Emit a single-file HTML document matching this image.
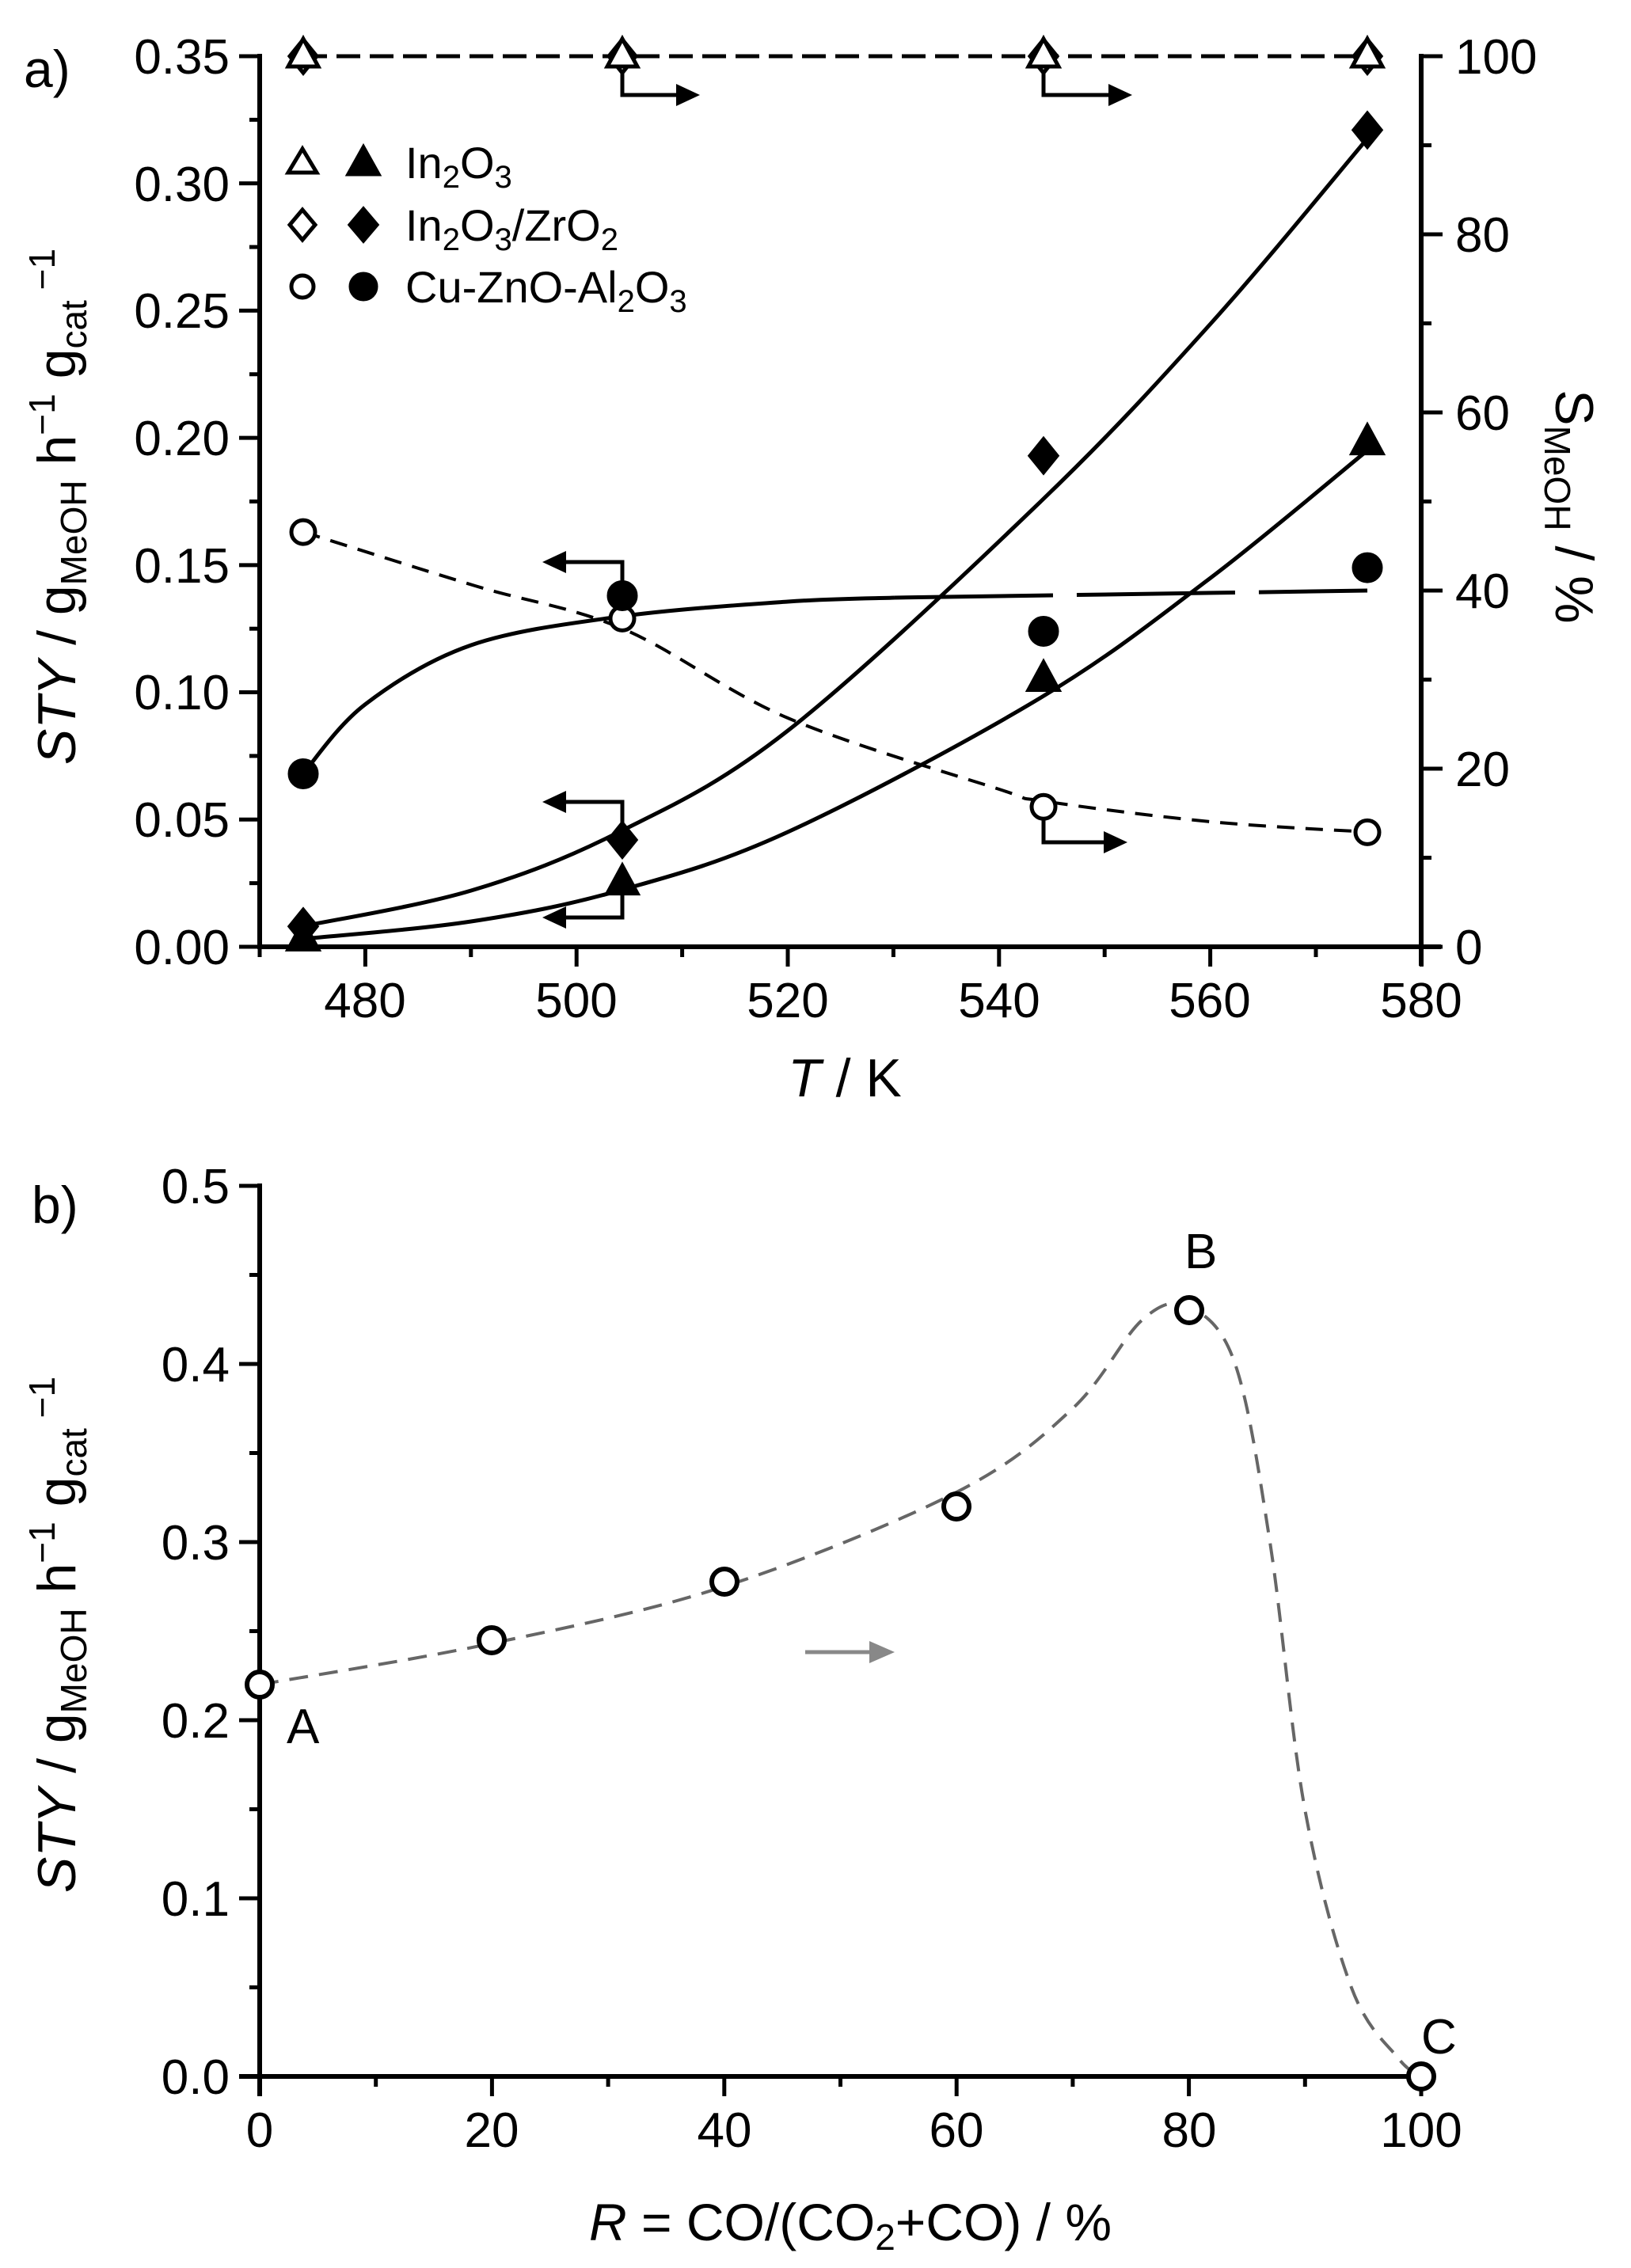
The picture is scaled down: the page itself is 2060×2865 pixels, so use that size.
<!DOCTYPE html>
<html><head><meta charset="utf-8"><style>
html,body{margin:0;padding:0;background:#fff;}
svg{display:block;font-family:"Liberation Sans",Arial,sans-serif;}
</style></head><body>
<svg id="s" width="2060" height="2865" viewBox="0 0 2060 2865" xmlns="http://www.w3.org/2000/svg">
<rect width="2060" height="2865" fill="#fff"/>
<g id="ticks" stroke="#000" stroke-width="5" fill="none"></g>
<g stroke="#000" stroke-width="6" fill="none">
<line x1="328" y1="68" x2="328" y2="1199"/>
<line x1="1795" y1="68" x2="1795" y2="1220"/>
<line x1="325" y1="1196" x2="1820" y2="1196"/>
<line x1="328" y1="1495" x2="328" y2="2648"/>
<line x1="302" y1="2623" x2="1800" y2="2623"/>
</g>
<g font-size="62" fill="#000" text-anchor="end">
<text x="290" y="93">0.35</text><text x="290" y="254">0.30</text><text x="290" y="414">0.25</text>
<text x="290" y="575">0.20</text><text x="290" y="736">0.15</text><text x="290" y="896">0.10</text>
<text x="290" y="1057">0.05</text><text x="290" y="1218">0.00</text>
</g>
<g font-size="62" fill="#000" text-anchor="start">
<text x="1838" y="93">100</text><text x="1838" y="318">80</text><text x="1838" y="543">60</text>
<text x="1838" y="768">40</text><text x="1838" y="993">20</text><text x="1838" y="1218">0</text>
</g>
<g font-size="62" fill="#000" text-anchor="middle">
<text x="461" y="1285">480</text><text x="728" y="1285">500</text><text x="995" y="1285">520</text>
<text x="1262" y="1285">540</text><text x="1528" y="1285">560</text><text x="1795" y="1285">580</text>
</g>
<text x="1067" y="1385" font-size="68" text-anchor="middle"><tspan font-style="italic">T</tspan> / K</text>
<text x="30" y="110" font-size="66">a)</text>
<text transform="translate(95,640) rotate(-90)" font-size="68" text-anchor="middle"><tspan font-style="italic">STY</tspan> / g<tspan font-size="46" dy="14">MeOH</tspan><tspan dy="-14"> h</tspan><tspan font-size="46" dy="-26">−1</tspan><tspan dy="26"> g</tspan><tspan font-size="46" dy="14">cat</tspan><tspan font-size="46" dy="-40"> −1</tspan></text>
<text transform="translate(1965,640) rotate(90)" font-size="68" text-anchor="middle">S<tspan font-size="46" dy="14">MeOH</tspan><tspan dy="-14"> / %</tspan></text>

<g stroke="#000" stroke-width="5">
<polygon points="382,188 364,218 400,218" fill="#fff"/>
<polygon points="459,186 440,220 478,220" fill="#000"/>
<polygon points="382,265 366,284 382,303 398,284" fill="#fff"/>
<polygon points="459,264 442,284 459,304 476,284" fill="#000"/>
<circle cx="382" cy="362" r="14" fill="#fff"/>
<circle cx="459" cy="362" r="16" fill="#000"/>
</g>
<g font-size="56" fill="#000">
<text x="512" y="225">In<tspan font-size="40" dy="12">2</tspan><tspan dy="-12">O</tspan><tspan font-size="40" dy="12">3</tspan></text>
<text x="512" y="304">In<tspan font-size="40" dy="12">2</tspan><tspan dy="-12">O</tspan><tspan font-size="40" dy="12">3</tspan><tspan dy="-12">/ZrO</tspan><tspan font-size="40" dy="12">2</tspan></text>
<text x="512" y="382">Cu-ZnO-Al<tspan font-size="40" dy="12">2</tspan><tspan dy="-12">O</tspan><tspan font-size="40" dy="12">3</tspan></text>
</g>

<g id="curves" fill="none" stroke="#000" stroke-width="5"></g>
<line x1="383" y1="71" x2="1727" y2="71" stroke="#000" stroke-width="5" stroke-dasharray="30,12"/>

<g stroke="#000" stroke-width="5" fill="none">
<polyline points="786,742 786,710 712,710"/>
<polyline points="786,1040 786,1013 712,1013"/>
<polyline points="786,1117 786,1159 712,1159"/>
<polyline points="786,71 786,120 858,120"/>
<polyline points="1318,71 1318,120 1404,120"/>
<polyline points="1318,1019 1318,1064 1398,1064"/>
</g>
<g fill="#000">
<polygon points="685,710 715,696 715,724"/>
<polygon points="685,1013 715,999 715,1027"/>
<polygon points="685,1159 715,1145 715,1173"/>
<polygon points="884,120 854,106 854,134"/>
<polygon points="1430,120 1400,106 1400,134"/>
<polygon points="1424,1064 1394,1050 1394,1078"/>
</g>

<g id="marks" stroke="#000" stroke-width="5"></g>

<g font-size="62" fill="#000" text-anchor="end">
<text x="290" y="1520">0.5</text><text x="290" y="1745">0.4</text><text x="290" y="1970">0.3</text>
<text x="290" y="2195">0.2</text><text x="290" y="2420">0.1</text><text x="290" y="2645">0.0</text>
</g>
<g font-size="62" fill="#000" text-anchor="middle">
<text x="328" y="2712">0</text><text x="621" y="2712">20</text><text x="915" y="2712">40</text>
<text x="1208" y="2712">60</text><text x="1502" y="2712">80</text><text x="1795" y="2712">100</text>
</g>
<text x="40" y="1545" font-size="66">b)</text>
<text transform="translate(95,2065) rotate(-90)" font-size="68" text-anchor="middle"><tspan font-style="italic">STY</tspan> / g<tspan font-size="46" dy="14">MeOH</tspan><tspan dy="-14"> h</tspan><tspan font-size="46" dy="-26">−1</tspan><tspan dy="26"> g</tspan><tspan font-size="46" dy="14">cat</tspan><tspan font-size="46" dy="-40"> −1</tspan></text>
<text x="1074" y="2830" font-size="66" text-anchor="middle"><tspan font-style="italic">R</tspan> = CO/(CO<tspan font-size="46" dy="12">2</tspan><tspan dy="-12">+CO) / %</tspan></text>
<g font-size="62" fill="#000">
<text x="362" y="2202">A</text><text x="1496" y="1602">B</text><text x="1795" y="2594">C</text>
</g>
<line x1="1017" y1="2087" x2="1100" y2="2087" stroke="#888" stroke-width="5"/>
<polygon points="1130,2087 1098,2073 1098,2101" fill="#888"/>
<g id="bmarks" stroke="#000" stroke-width="6" fill="#fff"></g>
</svg>
<script>
var NS="http://www.w3.org/2000/svg";
function el(p,t,a){var e=document.createElementNS(NS,t);for(var k in a)e.setAttribute(k,a[k]);document.getElementById(p).appendChild(e);return e;}
function cr(pts){var d="M"+pts[0][0]+","+pts[0][1];for(var i=0;i<pts.length-1;i++){var p0=pts[i-1]||pts[i],p1=pts[i],p2=pts[i+1],p3=pts[i+2]||p2;
d+=" C"+(p1[0]+(p2[0]-p0[0])/6)+","+(p1[1]+(p2[1]-p0[1])/6)+" "+(p2[0]-(p3[0]-p1[0])/6)+","+(p2[1]-(p3[1]-p1[1])/6)+" "+p2[0]+","+p2[1];}return d;}
var i;
for(i=0;i<=14;i++){var y=1196-i*80.36;el("ticks","line",{x1:i%2?315:302,y1:y,x2:328,y2:y});}
for(i=0;i<=10;i++){var y=1196-i*112.5;el("ticks","line",{x1:1795,y1:y,x2:i%2?1808:1822,y2:y});}
for(i=0;i<=11;i++){var x=328+i*133.4;el("ticks","line",{x1:x,y1:1196,x2:x,y2:i%2?1221:1209});}
for(i=0;i<=10;i++){var y=2623-i*112.5;el("ticks","line",{x1:i%2?315:302,y1:y,x2:328,y2:y});}
for(i=0;i<=10;i++){var x=328+i*146.7;el("ticks","line",{x1:x,y1:2623,x2:x,y2:i%2?2636:2648});}
el("curves","path",{d:cr([[383,1170],[595,1125],[782,1051],[995,923],[1315,633],[1529,409],[1727,175]])});
el("curves","path",{d:cr([[383,1186],[595,1164],[782,1125],[995,1051],[1315,881],[1529,730],[1727,569]])});
el("curves","path",{d:cr([[383,977],[461,890],[595,815],[782,779],[995,760],[1130,755]])});
el("curves","path",{d:"M1130,755 L1727,746","stroke-dasharray":"200,30"});
el("curves","path",{d:cr([[383,672],[600,740],[786,794],[995,907],[1262,997],[1318,1012],[1529,1038],[1727,1051]]),"stroke-dasharray":"22,14","stroke-width":4});
el("curves","path",{d:cr([[328,2128],[621,2076],[915,2004],[1208,1885],[1355,1779],[1443,1667],[1502,1651],[1560,1723],[1604,1948],[1648,2285],[1707,2511],[1766,2600],[1795,2623]]),stroke:"#666","stroke-dasharray":"24,14","stroke-width":4});
var xs=[383,786,1318,1727];
function tri(x,y,f){el("marks","polygon",{points:(x)+","+(y-22)+" "+(x-19)+","+(y+13)+" "+(x+19)+","+(y+13),fill:f});}
function dia(x,y,f){el("marks","polygon",{points:x+","+(y-21)+" "+(x+17)+","+y+" "+x+","+(y+21)+" "+(x-17)+","+y,fill:f});}
function cir(x,y,f){el("marks","circle",{cx:x,cy:y,r:f=="#000"?17:15,fill:f});}
xs.forEach(function(x){dia(x,71,"#fff");tri(x,71,"#fff");});
[0.003,0.025,0.105,0.198].forEach(function(v,k){tri(xs[k],1196-v*3214,"#000");});
[0.008,0.042,0.193,0.321].forEach(function(v,k){dia(xs[k],1196-v*3214,"#000");});
[0.163,0.129,0.055,0.045].forEach(function(v,k){cir(xs[k],1196-v*3214,"#fff");});
[0.068,0.138,0.124,0.149].forEach(function(v,k){cir(xs[k],1196-v*3214,"#000");});
[[328,2128],[621,2072],[915,1998],[1208,1903],[1502,1655],[1795,2623]].forEach(function(p){el("bmarks","circle",{cx:p[0],cy:p[1],r:16});});
</script>
</body></html>
